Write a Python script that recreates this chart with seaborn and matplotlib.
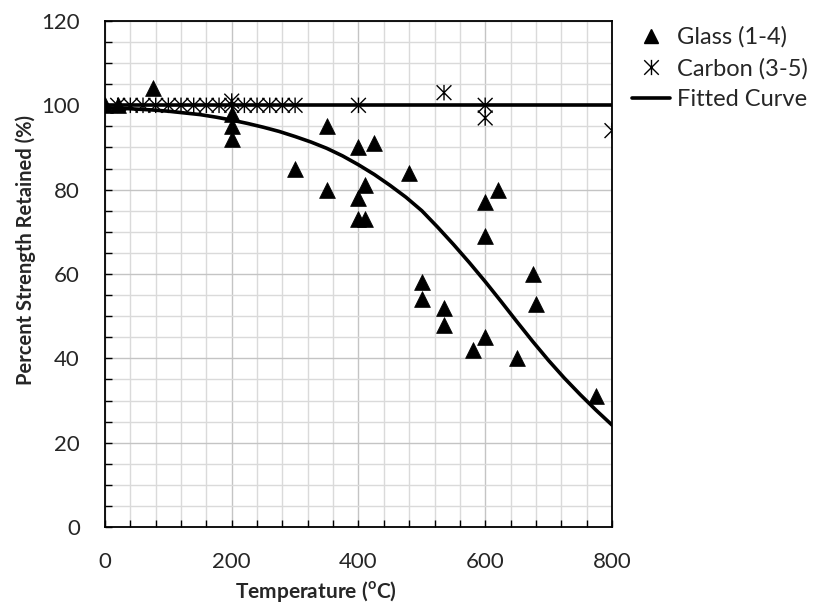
import numpy as np
import pandas as pd
import matplotlib
matplotlib.use("Agg")
import matplotlib.pyplot as plt
from matplotlib.lines import Line2D
from matplotlib.path import Path
from matplotlib.ticker import MultipleLocator
import seaborn as sns

# ---- data ----
glass_x = [0, 20, 75, 200, 200, 200, 300, 350, 350, 400, 400, 400, 410, 410, 425,
           480, 500, 500, 535, 535, 580, 600, 600, 600, 620, 650, 675, 680, 775]
glass_y = [100, 100, 104, 98, 95, 92, 85, 95, 80, 90, 78, 73, 81, 73, 91,
           84, 58, 54, 52, 48, 42, 45, 77, 69, 80, 40, 60, 53, 31]

carbon_x = [20, 40, 60, 80, 100, 120, 140, 160, 180, 200, 220, 240, 260, 280, 300,
            200, 400, 535, 600, 600, 800]
carbon_y = [100, 100, 100, 100, 100, 100, 100, 100, 100, 100, 100, 100, 100, 100, 100,
            101, 100, 103, 100, 97, 94]

glass_fit_x = [0, 25, 50, 75, 100, 125, 150, 175, 200, 225, 250, 275, 300, 325, 350,
               375, 400, 425, 450, 475, 500, 525, 550, 575, 600, 625, 650, 675, 700,
               725, 750, 775, 800]
glass_fit_y = [99.4, 99.3, 99.1, 98.9, 98.6, 98.2, 97.8, 97.2, 96.5, 95.7, 94.8, 93.8,
               92.6, 91.3, 89.8, 88.0, 85.9, 83.6, 81.0, 78.2, 75.0, 71.1, 67.0, 62.7,
               58.2, 53.5, 48.7, 44.0, 39.5, 35.3, 31.4, 27.7, 24.2]
carbon_fit_x = [0, 800]
carbon_fit_y = [100, 100]

x_ticks = [0, 200, 400, 600, 800]
y_ticks = [0, 20, 40, 60, 80, 100, 120]

# ---- style ----
sns.set_theme(style="white")
plt.rcParams["font.family"] = ["Lato", "DejaVu Sans"]
plt.rcParams["mathtext.fontset"] = "custom"
plt.rcParams["mathtext.rm"] = "Lato"
plt.rcParams["mathtext.bf"] = "Lato:bold"

fig = plt.figure(figsize=(8.17, 6.08), dpi=100)
ax = fig.add_axes([0.1285, 0.1332, 0.6205, 0.8323])

# grid
ax.xaxis.set_major_locator(MultipleLocator(200))
ax.xaxis.set_minor_locator(MultipleLocator(40))
ax.yaxis.set_major_locator(MultipleLocator(20))
ax.yaxis.set_minor_locator(MultipleLocator(5))
ax.grid(which="minor", color="#dadada", linewidth=1.0)
ax.grid(which="major", color="#c4c4c4", linewidth=1.0)
ax.set_axisbelow(True)

star = Path([(-1, -1), (1, 1), (-1, 1), (1, -1), (0, -1.05), (0, 1.05)],
            [Path.MOVETO, Path.LINETO, Path.MOVETO, Path.LINETO, Path.MOVETO, Path.LINETO])

fit_g = pd.DataFrame({"x": glass_fit_x, "y": glass_fit_y})
fit_c = pd.DataFrame({"x": carbon_fit_x, "y": carbon_fit_y})
sns.lineplot(data=fit_c, x="x", y="y", ax=ax, color="black", linewidth=2.6, zorder=3)
sns.lineplot(data=fit_g, x="x", y="y", ax=ax, color="black", linewidth=2.6, zorder=3)

gdf = pd.DataFrame({"x": glass_x, "y": glass_y})
cdf = pd.DataFrame({"x": carbon_x, "y": carbon_y})
sns.scatterplot(data=cdf, x="x", y="y", ax=ax, marker=star, s=125,
                facecolors="none", edgecolor="black", linewidth=1.0, zorder=4)
sns.scatterplot(data=gdf, x="x", y="y", ax=ax, marker="^", s=130,
                color="black", edgecolor="black", linewidth=0.5, zorder=5)

ax.set_xlim(0, 800)
ax.set_ylim(0, 120)
ax.set_xticks(x_ticks)
ax.set_yticks(y_ticks)
ax.set_xticklabels([str(v) for v in x_ticks])
ax.set_yticklabels([str(v) for v in y_ticks])

for s in ax.spines.values():
    s.set_color("black")
    s.set_linewidth(1.3)
ax.tick_params(which="both", direction="in", length=5, width=1, color="black",
               labelsize=16, pad=18, top=False, right=False, bottom=True, left=True)

ax.set_xlabel(r"Temperature ($^{\mathbf{o}}$C)", fontsize=15, fontweight="bold")
ax.set_ylabel("Percent Strength Retained (%)", fontsize=14.5, fontweight="bold")
ax.xaxis.set_label_coords(0.416, -0.128)
ax.xaxis.label.set_va("center")
ax.yaxis.set_label_coords(-0.157, 0.547)
ax.yaxis.label.set_va("center")

handles = [
    Line2D([], [], marker="^", color="black", linestyle="none", markersize=10),
    Line2D([], [], marker=star, color="black", markerfacecolor="none", linestyle="none",
           markersize=11, markeredgewidth=1.0),
    Line2D([], [], color="black", linewidth=2.6),
]
labels = ["Glass (1-4)", "Carbon (3-5)", "Fitted Curve"]
fig.legend(handles, labels, loc="upper left", bbox_to_anchor=(0.762, 0.972),
           frameon=False, fontsize=17, handlelength=1.6, handletextpad=0.3,
           labelspacing=0.42, borderaxespad=0)

fig.savefig("out.png", dpi=100)
